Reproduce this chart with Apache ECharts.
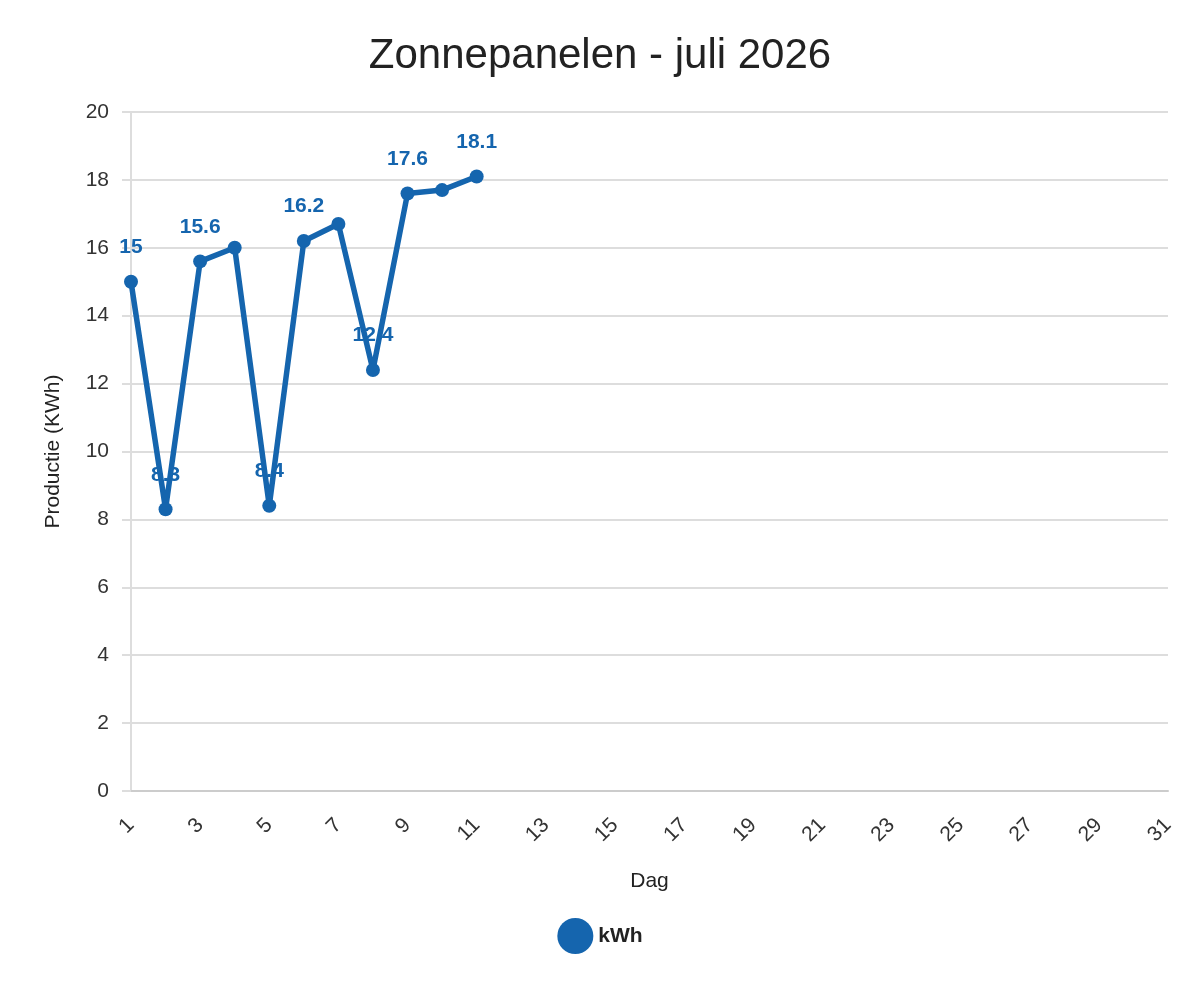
<!DOCTYPE html>
<html>
<head>
<meta charset="utf-8">
<script src="https://cdn.jsdelivr.net/npm/echarts@6/dist/echarts.min.js"></script>
<style>html,body{margin:0;padding:0;background:#fff}#c{width:1200px;height:1000px}</style>
</head>
<body>
<div id="c"></div>
<script>
const days = Array.from({length: 31}, (_, i) => String(i + 1));
const kwh = [15, 8.3, 15.6, 16.0, 8.4, 16.2, 16.7, 12.4, 17.6, 17.7, 18.1];
const showLabel = [true, true, true, false, true, true, false, true, true, false, true];
const title = 'Zonnepanelen - juli 2026';
const seriesName = 'kWh';
const yName = 'Productie (KWh)';
const xName = 'Dag';

const color = '#1565ae';
const chart = echarts.init(document.getElementById('c'), null, {renderer: 'canvas'});
chart.setOption({
  animation: false,
  textStyle: {fontFamily: 'Arial, "Liberation Sans", sans-serif'},
  title: {
    text: title, left: 'center', top: 30,
    textStyle: {fontSize: 42, fontWeight: 'normal', color: '#222', fontFamily: 'Arial, "Liberation Sans", sans-serif'}
  },
  legend: {
    bottom: 41, left: 'center',
    icon: 'circle', itemWidth: 36, itemHeight: 36, itemGap: 10,
    data: [seriesName],
    textStyle: {fontSize: 21, fontWeight: 'bold', color: '#222'}
  },
  grid: {left: 131, right: 32, top: 112, bottom: 209, containLabel: false},
  xAxis: {
    type: 'category', data: days, boundaryGap: false,
    name: xName, nameLocation: 'middle', nameGap: 80,
    nameTextStyle: {fontSize: 21, color: '#222'},
    axisLine: {show: true, lineStyle: {color: '#ccc', width: 2}},
    axisTick: {show: false},
    axisLabel: {interval: 1, rotate: 45, fontSize: 21, color: '#333', margin: 31},
    splitLine: {show: false}
  },
  yAxis: {
    type: 'value', min: 0, max: 20, interval: 2,
    name: yName, nameLocation: 'middle', nameGap: 67, nameRotate: 90,
    nameTextStyle: {fontSize: 21, color: '#222'},
    axisLine: {show: true, lineStyle: {color: '#ddd', width: 2}},
    axisTick: {show: true, length: 9, lineStyle: {color: '#ddd', width: 2}},
    axisLabel: {fontSize: 21, color: '#333', margin: 22},
    splitLine: {show: true, lineStyle: {color: '#ddd', width: 2}}
  },
  series: [{
    name: seriesName, type: 'line',
    data: kwh.map((v, i) => ({value: v, label: {show: showLabel[i]}})),
    symbol: 'circle', symbolSize: 14,
    lineStyle: {color: color, width: 5.5},
    itemStyle: {color: color},
    label: {
      show: true, position: 'top', distance: 17,
      fontSize: 21, fontWeight: 'bold', color: color
    }
  }]
});
</script>
</body>
</html>
